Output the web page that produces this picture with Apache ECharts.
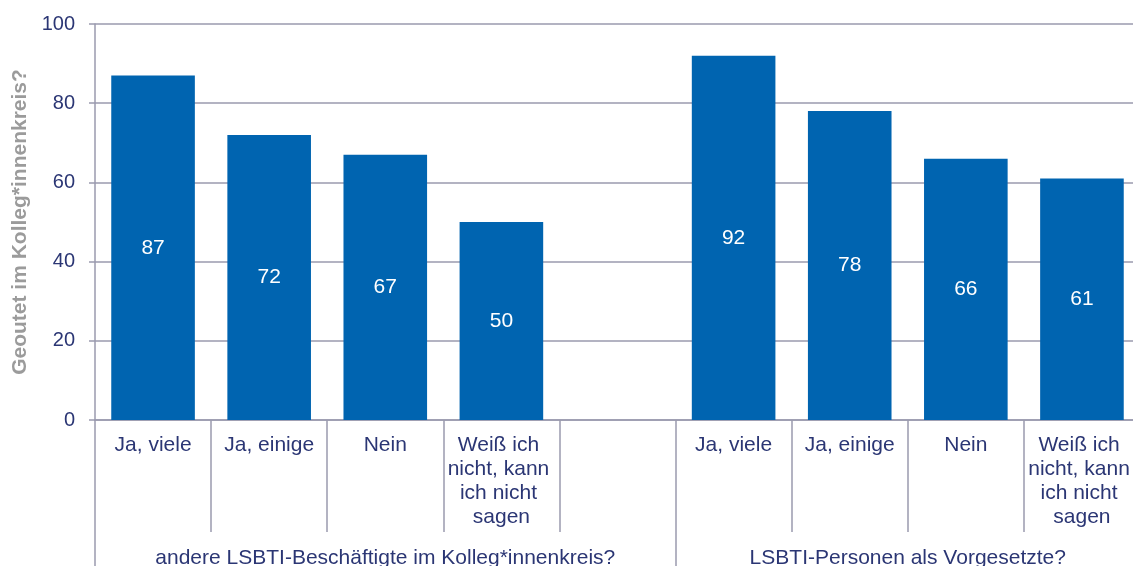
<!DOCTYPE html>
<html>
<head>
<meta charset="utf-8">
<script src="https://cdn.jsdelivr.net/npm/echarts@6/dist/echarts.min.js"></script>
<style>
  html, body { margin: 0; padding: 0; background: #fff; }
  #chart { width: 1133px; height: 566px; }
</style>
</head>
<body>
<div id="chart"></div>
<script>
// categories per slot (empty slot separates the two groups)
const categories = [
  'Ja, viele', 'Ja, einige', 'Nein', 'Weiß ich nicht, kann ich nicht sagen', '',
  'Ja, viele', 'Ja, einige', 'Nein', 'Weiß ich nicht, kann ich nicht sagen'
]
const values = [87, 72, 67, 50, null, 92, 78, 66, 61]
const groupNames = ['andere LSBTI-Beschäftigte im Kolleg*innenkreis?', 'LSBTI-Personen als Vorgesetzte?']
const groupSizes = [5, 4]
const yTicks = [0, 20, 40, 60, 80, 100]

const navy = '#2b3674'
const axisGray = '#9a9aae'
const font = '"Liberation Sans", Arial, sans-serif'

// group boundaries / centres in slot units
const bounds = [0]
groupSizes.forEach(n => bounds.push(bounds[bounds.length - 1] + n))
const centers = groupSizes.map((n, i) => bounds[i] + n / 2)

const chart = echarts.init(document.getElementById('chart'))
chart.setOption({
  animation: false,
  textStyle: { fontFamily: font },
  grid: { left: 95, right: -7, top: 24, bottom: 146, containLabel: false, outerBoundsMode: 'none' },
  xAxis: [
    {
      type: 'category', data: categories,
      axisLine: { lineStyle: { color: axisGray, width: 1.5 } },
      axisTick: { show: true, length: 112, lineStyle: { color: axisGray, width: 1.5 } },
      axisLabel: {
        color: navy, fontSize: 21, lineHeight: 24, margin: 13,
        width: 110, overflow: 'break', interval: 0
      },
      splitLine: { show: false }
    },
    {
      type: 'value', min: 0, max: bounds[bounds.length - 1],
      position: 'bottom', offset: 112,
      axisLine: { show: false },
      axisTick: { show: true, length: 40, customValues: bounds, lineStyle: { color: axisGray, width: 1.5 } },
      axisLabel: {
        color: navy, fontSize: 21, lineHeight: 24, margin: 14,
        customValues: centers,
        formatter: v => groupNames[centers.indexOf(v)] || ''
      },
      splitLine: { show: false }
    }
  ],
  yAxis: {
    type: 'value', min: yTicks[0], max: yTicks[yTicks.length - 1], interval: 20,
    name: 'Geoutet im Kolleg*innenkreis?', nameLocation: 'middle', nameGap: 60,
    nameTextStyle: { color: '#9b9b9b', fontSize: 21, fontWeight: 'bold' },
    axisLine: { show: true, lineStyle: { color: axisGray, width: 1.5 } },
    axisTick: { show: true, length: 6, lineStyle: { color: axisGray, width: 1.5 } },
    axisLabel: { color: navy, fontSize: 20, margin: 20 },
    splitLine: { lineStyle: { color: axisGray, width: 1.5 } }
  },
  series: [{
    type: 'bar', data: values, barCategoryGap: '28%',
    itemStyle: { color: '#0064b0' },
    label: { show: true, position: 'inside', color: '#fff', fontSize: 21 }
  }]
})
</script>
</body>
</html>
